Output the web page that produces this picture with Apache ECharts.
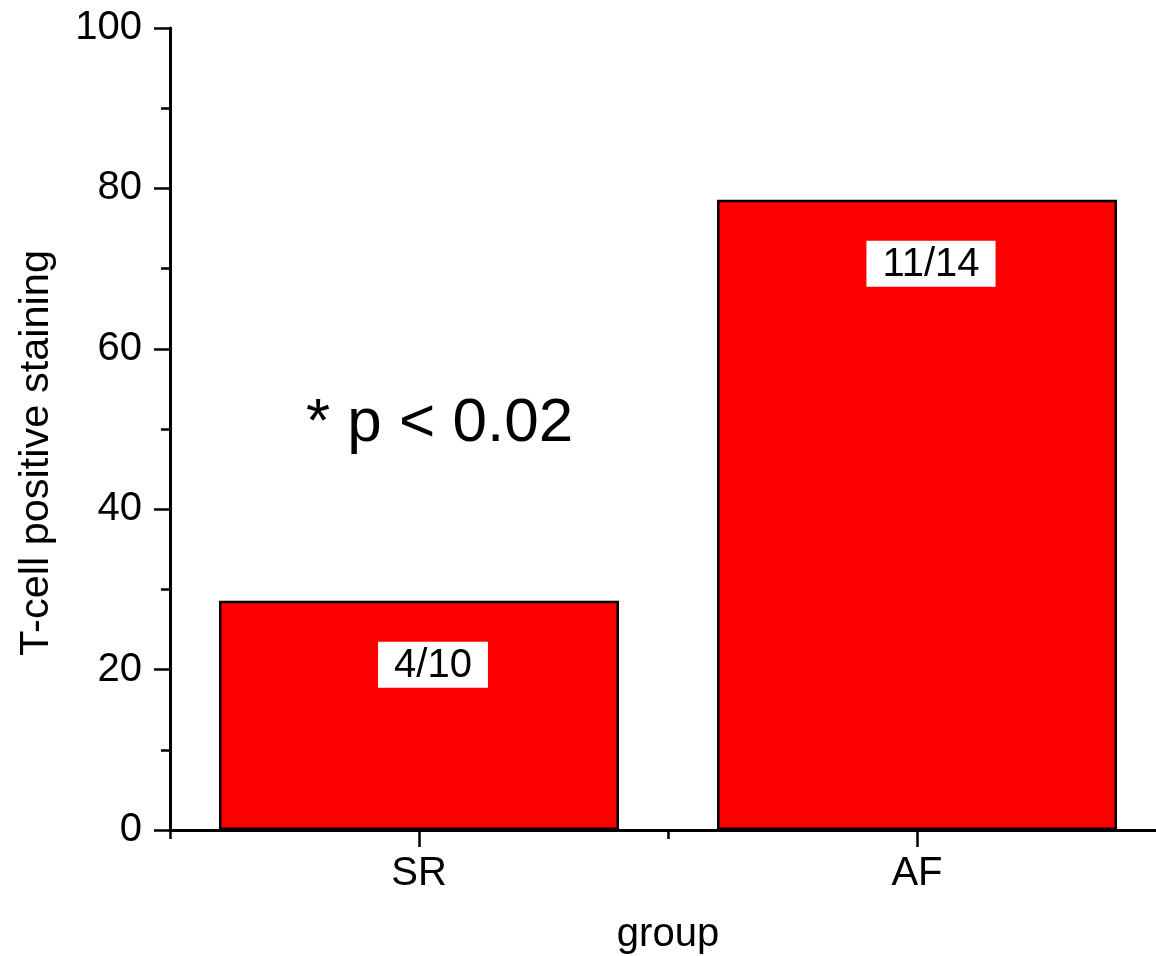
<!DOCTYPE html>
<html>
<head>
<meta charset="utf-8">
<script src="https://cdn.jsdelivr.net/npm/echarts@6/dist/echarts.min.js"></script>
<style>
  html, body { margin: 0; padding: 0; background: #fff; overflow: hidden; }
  /* the x axis runs a little past the right edge of the picture */
  #chart { width: 1166px; height: 956px; }
</style>
</head>
<body>
<div id="chart"></div>
<script>
// data
const groups = ['SR', 'AF'];
const staining = [28.57, 78.57];
const counts = ['4/10', '11/14'];
const yTicks = [0, 20, 40, 60, 80, 100];

const FONT = 'Arial, "Liberation Sans", sans-serif';
const chart = echarts.init(document.getElementById('chart'));

chart.setOption({
    animation: false,
    backgroundColor: '#fff',
    textStyle: { fontFamily: FONT },
    grid: { left: 170, right: 0, top: 28, bottom: 126, outerBoundsMode: 'none' },
    xAxis: [
        {
            type: 'category',
            data: groups,
            name: 'group',
            nameLocation: 'middle',
            nameGap: 85,
            nameTextStyle: { fontSize: 40, color: '#000', fontFamily: FONT },
            axisLine: { show: true, lineStyle: { color: '#000', width: 3 } },
            axisTick: { show: true, alignWithLabel: true, length: 17, lineStyle: { color: '#000', width: 2.5 } },
            axisLabel: { fontSize: 40, color: '#000', margin: 24, fontFamily: FONT },
            splitLine: { show: false }
        },
        {
            // boundary ticks between the groups
            type: 'category',
            data: groups,
            position: 'bottom',
            axisLine: { show: false },
            axisTick: { show: true, length: 9, lineStyle: { color: '#000', width: 2.5 } },
            axisLabel: { show: false },
            splitLine: { show: false }
        }
    ],
    yAxis: {
        type: 'value',
        min: yTicks[0],
        max: yTicks[yTicks.length - 1],
        interval: 20,
        name: 'T-cell positive staining',
        nameLocation: 'middle',
        nameGap: 112,
        nameTextStyle: { fontSize: 41.5, color: '#000', fontFamily: FONT, padding: [0, 48, 0, 0] },
        axisLine: { show: true, lineStyle: { color: '#000', width: 3 } },
        axisTick: { show: true, length: 16, lineStyle: { color: '#000', width: 2.5 } },
        minorTick: { show: true, splitNumber: 2, length: 9, lineStyle: { color: '#000', width: 2.5 } },
        axisLabel: { fontSize: 40, color: '#000', margin: 28, fontFamily: FONT },
        splitLine: { show: false }
    },
    series: [
        {
            type: 'bar',
            xAxisIndex: 0,
            barWidth: 400,
            data: staining,
            itemStyle: { color: '#ff0000', borderColor: '#000', borderWidth: 2.5 },
            label: {
                show: true,
                position: 'insideTop',
                distance: 41,
                offset: [14, 0],
                formatter: p => counts[p.dataIndex],
                fontSize: 40,
                color: '#000',
                fontFamily: FONT,
                backgroundColor: '#fff',
                padding: [4, 16, 2, 16]
            }
        }
    ],
    graphic: [
        {
            type: 'text',
            left: 306,
            top: 393,
            style: {
                text: '* p < 0.02',
                font: '62px ' + FONT,
                fill: '#000'
            }
        }
    ]
});
</script>
</body>
</html>
